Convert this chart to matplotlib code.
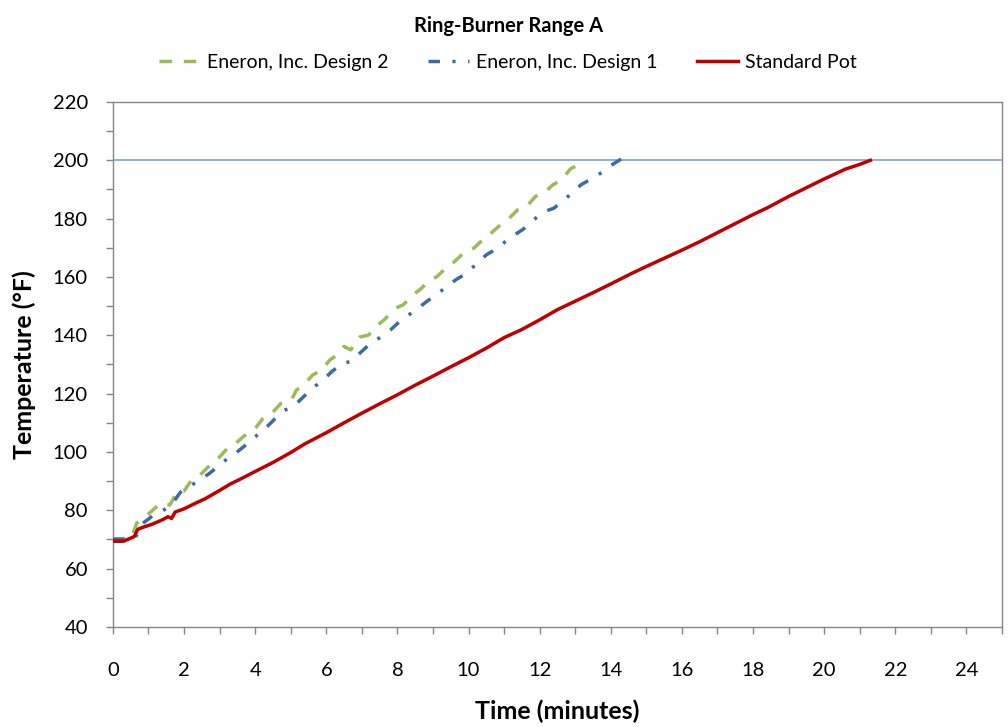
import matplotlib
matplotlib.use("Agg")
import matplotlib.pyplot as plt
from matplotlib.ticker import MultipleLocator

plt.rcParams['font.family'] = ['Lato', 'DejaVu Sans']

# standard pot (red, solid)
std_t = [0, 0.3, 0.45, 0.6, 0.7, 0.85, 1.1, 1.4, 1.55, 1.65, 1.75, 2.0, 2.3, 2.6, 3.0, 3.3,
         3.6, 4.0, 4.5, 5.0, 5.4, 6.0, 6.5, 7.0, 7.5, 8.0, 8.5, 9.0, 9.5, 10.0, 10.5, 11.0,
         11.5, 12.0, 12.5, 13.0, 13.5, 14.0, 14.6, 15.0, 15.5, 16.0, 16.5, 17.0, 17.5, 18.0,
         18.4, 19.0, 19.5, 20.0, 20.25, 20.6, 21.0, 21.3]
std_temp = [69.4, 69.4, 70.2, 71.0, 73.5, 74.2, 75.2, 76.8, 77.8, 77.2, 79.4, 80.5, 82.3, 84.0,
            86.8, 89.0, 90.8, 93.3, 96.4, 99.8, 102.8, 106.6, 110.0, 113.3, 116.5, 119.6,
            122.9, 126.0, 129.2, 132.3, 135.6, 139.2, 142.0, 145.3, 148.8, 151.7, 154.6,
            157.6, 161.3, 163.6, 166.4, 169.2, 172.1, 175.2, 178.3, 181.4, 183.7, 187.6,
            190.6, 193.6, 195.0, 197.0, 198.6, 200.0]

# design 1 (blue, dash-dot)
d1_t = [0, 0.6, 0.72, 0.84, 1.0, 1.12, 1.35, 1.55, 1.7, 1.9, 2.2, 2.5, 2.7, 3.0, 3.25, 3.45,
        3.75, 4.05, 4.28, 4.55, 4.82, 5.07, 5.35, 5.62, 5.86, 6.15, 6.45, 6.69, 7.0, 7.3,
        7.48, 7.8, 8.08, 8.32, 8.6, 8.87, 9.11, 9.4, 9.66, 9.9, 10.2, 10.5, 10.74, 11.0,
        11.29, 11.53, 11.85, 12.13, 12.4, 12.7, 12.95, 13.16, 13.45, 13.77, 14.0, 14.3]
d1_temp = [70.1, 70.1, 72.5, 75.5, 77.0, 78.2, 79.5, 81.0, 82.8, 86.2, 88.5, 91.0, 92.5, 95.5,
           98.0, 99.6, 102.5, 105.7, 108.0, 111.3, 114.3, 115.5, 118.8, 122.0, 124.1, 127.5,
           130.4, 131.0, 134.5, 137.9, 139.0, 141.8, 144.9, 147.0, 149.5, 152.0, 154.1,
           156.8, 159.2, 160.9, 164.2, 167.6, 169.3, 171.8, 174.4, 176.3, 179.8, 182.4,
           183.6, 186.5, 189.3, 191.6, 193.6, 196.0, 198.2, 200.5]

# design 2 (green, dashed)
d2_t = [0, 0.5, 0.57, 0.67, 0.97, 1.15, 1.37, 1.5, 1.6, 1.82, 2.0, 2.2, 2.45, 2.74, 2.94, 3.24,
        3.42, 3.68, 3.96, 4.22, 4.47, 4.72, 5.02, 5.16, 5.36, 5.61, 5.86, 6.1, 6.3, 6.5,
        6.69, 6.94, 7.19, 7.44, 7.63, 7.93, 8.17, 8.42, 8.62, 8.92, 9.11, 9.41, 9.61, 9.9,
        10.15, 10.45, 10.64, 10.89, 11.09, 11.38, 11.63, 11.88, 12.12, 12.37, 12.62, 12.87,
        13.15]
d2_temp = [70.1, 70.2, 72.2, 75.6, 78.4, 80.4, 82.6, 82.0, 81.8, 86.6, 86.6, 90.2, 92.1, 95.6,
           97.5, 101.5, 102.6, 105.4, 107.4, 111.5, 113.3, 116.6, 117.8, 121.2, 122.9, 126.3,
           128.1, 131.5, 133.3, 136.2, 135.0, 139.4, 140.1, 143.5, 145.3, 149.2, 150.5,
           153.8, 155.5, 159.0, 160.1, 163.6, 165.3, 168.7, 169.9, 173.3, 175.1, 177.8,
           179.5, 183.0, 184.1, 187.6, 188.7, 191.6, 193.3, 197.1, 198.8]

target = 200

fig = plt.figure(figsize=(10.08, 7.27), dpi=100)
ax = fig.add_axes([0.112, 0.1376, 0.882, 0.7221])

ax.axhline(target, color='#7BA3D6', lw=1.2, zorder=1)
ax.plot(d2_t, d2_temp, color='#9BBB59', lw=2.5, dashes=(3.6, 3.4), dash_capstyle='butt',
        label='Eneron, Inc. Design 2', zorder=3)
ax.plot(d1_t, d1_temp, color='#3D6AA3', lw=2.5, dashes=(3.3, 3.6, 0.9, 3.6), dash_capstyle='butt',
        label='Eneron, Inc. Design 1', zorder=3)
ax.plot(std_t, std_temp, color='#C00000', lw=2.5, label='Standard Pot', zorder=4)

ax.set_xlim(0, 25)
ax.set_ylim(40, 220)
ax.xaxis.set_major_locator(MultipleLocator(2))
ax.xaxis.set_minor_locator(MultipleLocator(1))
ax.yaxis.set_major_locator(MultipleLocator(20))
ax.yaxis.set_minor_locator(MultipleLocator(10))
ax.tick_params(axis='both', which='both', direction='out', color='#868686', width=1, length=5)
ax.tick_params(axis='x', which='major', pad=20, labelsize=14.5)
ax.tick_params(axis='y', which='major', pad=13, labelsize=14.5)
for s in ax.spines.values():
    s.set_color('#868686')
    s.set_linewidth(1)

ax.set_xlabel('Time (minutes)', fontsize=18, fontweight='bold', labelpad=15)
ax.set_ylabel('Temperature (°F)', fontsize=18, fontweight='bold', labelpad=12)

fig.text(0.505, 0.978, 'Ring-Burner Range A', ha='center', va='top', fontsize=14.5, fontweight='bold')
fig.legend(loc='center', bbox_to_anchor=(0.504, 0.914), ncol=3, frameon=False, fontsize=14,
           handlelength=2.1, columnspacing=2.0, handletextpad=0.4)

fig.savefig('out.png', dpi=100)
